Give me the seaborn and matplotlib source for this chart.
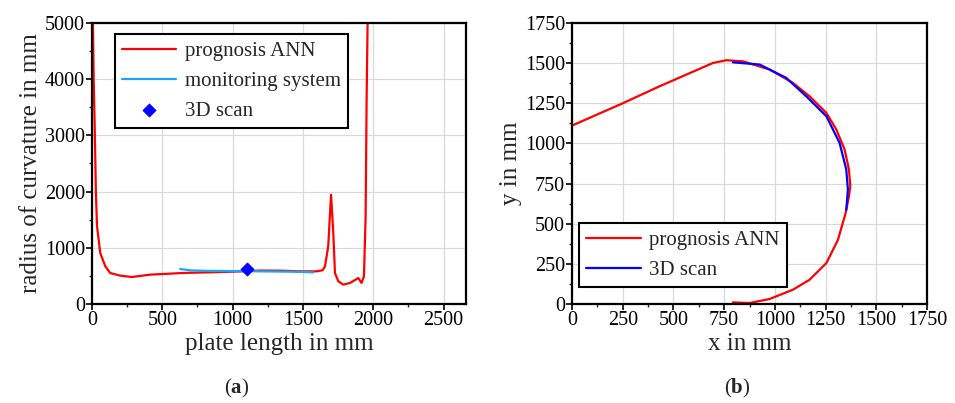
import pandas as pd
import seaborn as sns
import matplotlib.pyplot as plt
from matplotlib.ticker import MultipleLocator

# (a) radius of curvature along the plate
ann_len = [7, 12, 19, 28, 36, 59, 95, 130, 201, 284, 414, 651, 1006, 1200, 1350, 1479,
           1598, 1640, 1657, 1680, 1700, 1716, 1728, 1752, 1787, 1835, 1894, 1917, 1934,
           1946, 1953, 1960]
ann_radius = [5000, 4000, 3220, 1975, 1380, 907, 670, 550, 504, 480, 522, 552, 575, 595,
              592, 581, 581, 600, 670, 1026, 1945, 1263, 550, 403, 344, 374, 462, 374, 492,
              1560, 3636, 5000]
mon_len = [627, 700, 800, 900, 1000, 1100, 1200, 1300, 1400, 1500, 1574]
mon_radius = [623, 598, 590, 588, 585, 583, 581, 578, 575, 570, 563]
scan_len = [1100]
scan_radius = [625]

# (b) plate contour
ann_x = [0, 250, 432, 695, 761, 843, 974, 1089, 1171, 1254, 1303, 1344, 1365, 1372, 1365,
         1349, 1311, 1254, 1171, 1089, 974, 875, 793]
ann_y = [1111, 1250, 1356, 1501, 1518, 1511, 1460, 1377, 1293, 1190, 1086, 961, 837, 733,
         670, 567, 400, 255, 151, 89, 31, 6, 10]
scan_x = [793, 925, 1056, 1155, 1254, 1319, 1352, 1360, 1352]
scan_y = [1505, 1491, 1408, 1293, 1169, 1003, 837, 712, 587]

RED = '#FF0000'
LIGHTBLUE = '#1EA4F5'
BLUE = '#0000FF'

sns.set_style('whitegrid', {'grid.color': '#D9D9D9', 'axes.edgecolor': 'black'})
plt.rcParams['font.family'] = ['Liberation Serif', 'DejaVu Serif']
plt.rcParams['mathtext.fontset'] = 'custom'
plt.rcParams['mathtext.bf'] = 'Liberation Serif:bold'
plt.rcParams['mathtext.rm'] = 'Liberation Serif'

fig = plt.figure(figsize=(9.55, 4.03), dpi=100)
ax1 = fig.add_axes([0.0963, 0.2457, 0.3917, 0.6973])
ax2 = fig.add_axes([0.599, 0.2457, 0.3717, 0.6973])


def style_axes(ax, xmaj, xmin, ymaj, ymin):
    ax.xaxis.set_major_locator(MultipleLocator(xmaj))
    ax.xaxis.set_minor_locator(MultipleLocator(xmin))
    ax.yaxis.set_major_locator(MultipleLocator(ymaj))
    ax.yaxis.set_minor_locator(MultipleLocator(ymin))
    ax.grid(True, which='major', color='#D9D9D9', linewidth=0.9)
    ax.tick_params(which='major', direction='out', length=4, width=1.2, labelsize=14.5,
                   bottom=True, left=True, pad=1, colors='black')
    ax.tick_params(which='minor', direction='out', length=2.5, width=1,
                   bottom=True, left=True)
    for s in ax.spines.values():
        s.set_linewidth(1.6)
        s.set_color('black')
    ax.set_axisbelow(True)


def style_legend(ax, **kw):
    leg = ax.legend(fontsize=15, frameon=True, fancybox=False, edgecolor='black',
                    framealpha=1, handlelength=2.6, handletextpad=0.4, borderpad=0.35,
                    labelspacing=0.5, borderaxespad=0, **kw)
    leg.get_frame().set_linewidth(1.5)
    return leg


def curve(ax, df, x, y, color, label):
    # raw points in drawing order, no aggregation
    sns.lineplot(ax=ax, data=df, x=x, y=y, sort=False, estimator=None, errorbar=None,
                 color=color, linewidth=1.6, label=label)


# panel (a)
df_ann = pd.DataFrame({'len': ann_len, 'radius': ann_radius})
df_mon = pd.DataFrame({'len': mon_len, 'radius': mon_radius})
df_scan = pd.DataFrame({'len': scan_len, 'radius': scan_radius})
curve(ax1, df_ann, 'len', 'radius', RED, 'prognosis ANN')
curve(ax1, df_mon, 'len', 'radius', LIGHTBLUE, 'monitoring system')
sns.scatterplot(ax=ax1, data=df_scan, x='len', y='radius', marker='D', color=BLUE, s=45,
                edgecolor=BLUE, label='3D scan', zorder=5)
ax1.set_xlim(0, 2660)
ax1.set_ylim(0, 5000)
style_axes(ax1, 500, 250, 1000, 500)
ax1.set_xlabel('plate length in mm', fontsize=18, labelpad=2)
ax1.set_ylabel('radius of curvature in mm', fontsize=18, labelpad=2)
style_legend(ax1, loc='upper left', bbox_to_anchor=(0.061, 0.961))

# panel (b)
df_ann_b = pd.DataFrame({'x': ann_x, 'y': ann_y})
df_scan_b = pd.DataFrame({'x': scan_x, 'y': scan_y})
curve(ax2, df_ann_b, 'x', 'y', RED, 'prognosis ANN')
curve(ax2, df_scan_b, 'x', 'y', BLUE, '3D scan')
ax2.set_xlim(0, 1750)
ax2.set_ylim(0, 1750)
style_axes(ax2, 250, 125, 250, 125)
ax2.set_xlabel('x in mm', fontsize=18, labelpad=2)
ax2.set_ylabel('y in mm', fontsize=18, labelpad=2)
style_legend(ax2, loc='lower left', bbox_to_anchor=(0.02, 0.06))

fig.text(237 / 955, 1 - 388 / 403, r'($\mathbf{a}$)', ha='center', va='center', fontsize=15)
fig.text(737 / 955, 1 - 388 / 403, r'($\mathbf{b}$)', ha='center', va='center', fontsize=15)

fig.savefig('out.png', dpi=100)
